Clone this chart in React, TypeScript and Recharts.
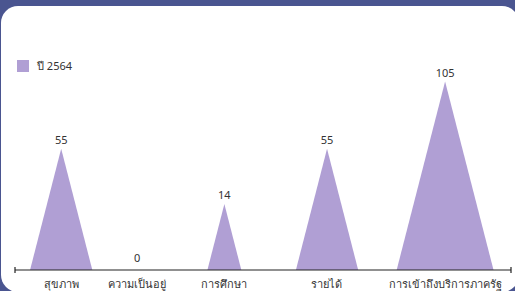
import React from 'react';
import {
  BarChart,
  Bar,
  XAxis,
  YAxis,
  LabelList,
  Legend,
  ReferenceLine,
} from 'recharts';

const categories = [
  'สุขภาพ',
  'ความเป็นอยู่',
  'การศึกษา',
  'รายได้',
  'การเข้าถึงบริการภาครัฐ',
];
const values2564 = [55, 0, 14, 55, 105];
// where each category sits along the axis (0-100)
const positions = [9.3, 24.6, 42.2, 62.9, 86.7];
const seriesName = 'ปี 2564';

const FLOOR = -35;
const TOP = 121;
const FILL = '#b09fd4';
const TEXT = '#333333';

const data = categories.map((name, i) => ({
  name,
  pos: positions[i],
  value: values2564[i],
}));

function Triangle(props: any) {
  const { x, y, width, height, payload } = props;
  if (!payload || payload.value <= 0) return null;
  const cx = x + width / 2;
  const base = y + height;
  const half = (base - y) * 0.257;
  return (
    <path
      d={`M${cx - half},${base} L${cx},${y} L${cx + half},${base} Z`}
      fill={FILL}
    />
  );
}

function PeakLabel(props: any) {
  const { x, y, width, height, value } = props;
  const cx = x + width / 2;
  const ty = value > 0 ? y - 5 : y + height - 8;
  return (
    <text x={cx} y={ty} textAnchor="middle" fontSize={11} fill={TEXT}>
      {value}
    </text>
  );
}

function EndCap(props: any) {
  const { x1, y1, y2 } = props;
  const bottom = Math.max(y1, y2);
  return <line x1={x1} x2={x1} y1={bottom - 3} y2={bottom + 3} stroke="#222" strokeWidth={1.2} />;
}

function LegendBox() {
  return (
    <div style={{ display: 'flex', alignItems: 'center', fontSize: 11, color: TEXT }}>
      <span style={{ width: 12, height: 12, background: FILL, display: 'inline-block' }} />
      <span style={{ marginLeft: 8 }}>{seriesName}</span>
    </div>
  );
}

export default function App() {
  return (
    <div
      style={{
        position: 'fixed',
        left: 0,
        top: 0,
        width: 515,
        height: 291,
        background: '#4a5590',
        overflow: 'hidden',
        fontFamily: "'Noto Sans', 'DejaVu Sans', sans-serif",
      }}
    >
      <div
        style={{
          position: 'absolute',
          left: 1,
          top: 6,
          width: 518,
          height: 286,
          background: '#ffffff',
          borderRadius: 17,
        }}
      />
      <div style={{ position: 'absolute', left: 0, top: 0 }}>
        <BarChart
          width={515}
          height={291}
          data={data}
          margin={{ top: 60, right: 4, left: 15, bottom: 0 }}
        >
          <XAxis
            dataKey="pos"
            type="number"
            domain={[0, 100]}
            ticks={positions}
            interval={0}
            tickFormatter={(v: number) => categories[positions.indexOf(v)] ?? ''}
            tickLine={false}
            tickMargin={4}
            height={21}
            tick={{ fill: TEXT, fontSize: 11 }}
            axisLine={{ stroke: '#222', strokeWidth: 1.2 }}
          />
          <YAxis hide type="number" domain={[FLOOR, TOP]} allowDataOverflow />
          <Legend
            verticalAlign="middle"
            align="center"
            content={<LegendBox />}
            wrapperStyle={{ position: 'absolute', left: 17, top: 57, width: 'auto', height: 'auto' }}
          />
          <ReferenceLine x={0} shape={<EndCap />} />
          <ReferenceLine x={100} shape={<EndCap />} />
          <Bar
            dataKey={(d: any) => [FLOOR, d.value]}
            name={seriesName}
            barSize={20}
            fill={FILL}
            shape={<Triangle />}
            isAnimationActive={false}
          >
            <LabelList dataKey="value" content={<PeakLabel />} />
          </Bar>
        </BarChart>
      </div>
    </div>
  );
}
